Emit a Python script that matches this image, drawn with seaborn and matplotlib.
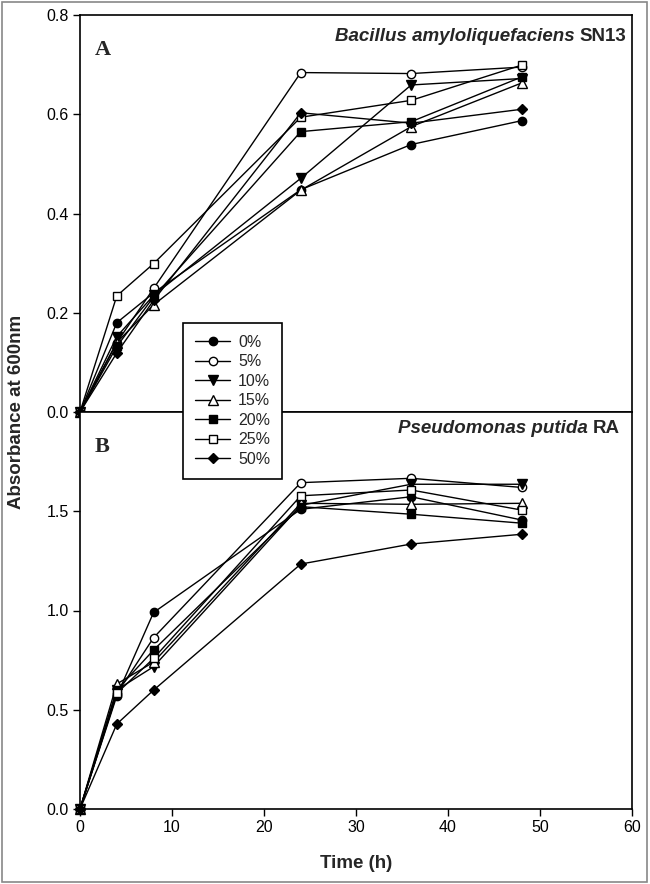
import matplotlib.pyplot as plt
import matplotlib.patches as mpatches
import pandas as pd
import seaborn as sns

# Sampling times (h) and salt concentration series
time_h = [0, 4, 8, 24, 36, 48]
concentrations = ['0%', '5%', '10%', '15%', '20%', '25%', '50%']

# Panel A: Bacillus amyloliquefaciens SN13 (absorbance at 600 nm)
bac_0 = [0.0, 0.180, 0.240, 0.448, 0.539, 0.587]
bac_5 = [0.0, 0.140, 0.249, 0.684, 0.682, 0.695]
bac_10 = [0.0, 0.152, 0.235, 0.471, 0.659, 0.672]
bac_15 = [0.0, 0.140, 0.216, 0.447, 0.575, 0.663]
bac_20 = [0.0, 0.132, 0.232, 0.565, 0.585, 0.675]
bac_25 = [0.0, 0.234, 0.299, 0.594, 0.628, 0.699]
bac_50 = [0.0, 0.119, 0.225, 0.603, 0.582, 0.610]

# Panel B: Pseudomonas putida RA
pse_0 = [0.0, 0.570, 0.990, 1.510, 1.573, 1.456]
pse_5 = [0.0, 0.580, 0.863, 1.644, 1.666, 1.620]
pse_10 = [0.0, 0.600, 0.717, 1.530, 1.636, 1.636]
pse_15 = [0.0, 0.630, 0.740, 1.540, 1.535, 1.540]
pse_20 = [0.0, 0.600, 0.801, 1.523, 1.485, 1.440]
pse_25 = [0.0, 0.583, 0.759, 1.578, 1.607, 1.506]
pse_50 = [0.0, 0.428, 0.599, 1.234, 1.335, 1.384]

bacillus = [bac_0, bac_5, bac_10, bac_15, bac_20, bac_25, bac_50]
pseudomonas = [pse_0, pse_5, pse_10, pse_15, pse_20, pse_25, pse_50]

markers = ['o', 'o', 'v', '^', 's', 's', 'D']
faces = ['black', 'white', 'black', 'white', 'black', 'white', 'black']
sizes = [6, 6, 6.5, 6.5, 6, 6, 5.5]

sns.set_style('ticks')
plt.rcParams['font.family'] = ['Liberation Sans', 'DejaVu Sans']
plt.rcParams['axes.linewidth'] = 1.2
plt.rcParams['xtick.major.width'] = 1.0
plt.rcParams['ytick.major.width'] = 1.0
plt.rcParams['xtick.color'] = 'black'
plt.rcParams['ytick.color'] = 'black'
plt.rcParams['axes.edgecolor'] = 'black'

fig = plt.figure(figsize=(6.5, 8.84), dpi=100)
left, width, height = 80 / 650, 552 / 650, 397 / 884
ax_a = fig.add_axes([left, 1 - 412 / 884, width, height])
ax_b = fig.add_axes([left, 1 - 809 / 884, width, height])


def draw_panel(ax, series):
    for vals, lab, m, fc, ms in zip(series, concentrations, markers, faces, sizes):
        df = pd.DataFrame({'time': time_h, 'abs': vals})
        sns.lineplot(data=df, x='time', y='abs', ax=ax, color='black',
                     linewidth=1.0, marker=m, markersize=ms,
                     markerfacecolor=fc, markeredgecolor='black',
                     markeredgewidth=1.0, errorbar=None, label=lab,
                     legend=False, clip_on=False)
    ax.set_xlim(0, 60)
    ax.set_xlabel('')
    ax.set_ylabel('')
    ax.tick_params(direction='out', length=5, labelsize=11.5, pad=3)


draw_panel(ax_a, bacillus)
draw_panel(ax_b, pseudomonas)

# Panel A
ax_a.set_ylim(0, 0.8)
ax_a.set_yticks([0.0, 0.2, 0.4, 0.6, 0.8])
ax_a.set_yticklabels(['0.0', '0.2', '0.4', '0.6', '0.8'])
ax_a.set_xticks([])

# Panel B
ax_b.set_ylim(0, 2.0)
ax_b.set_yticks([0.0, 0.5, 1.0, 1.5])
ax_b.set_yticklabels(['0.0', '0.5', '1.0', '1.5'])
ax_b.set_xticks([0, 10, 20, 30, 40, 50, 60])

# Panel letters
ax_a.text(0.027, 0.912, 'A', transform=ax_a.transAxes, family='Liberation Serif',
          fontweight='bold', fontsize=16, va='center', ha='left')
ax_b.text(0.027, 0.912, 'B', transform=ax_b.transAxes, family='Liberation Serif',
          fontweight='bold', fontsize=16, va='center', ha='left')

# Organism titles: italic genus/species + roman strain
t_a = ax_a.text(0.99, 0.947, 'SN13', transform=ax_a.transAxes, fontweight='bold',
                fontsize=13.5, ha='right', va='center')
ax_a.annotate('Bacillus amyloliquefaciens ', xy=(0, 0), xycoords=t_a,
              ha='right', va='bottom', fontweight='bold', fontstyle='italic',
              fontsize=13.5)
t_b = ax_b.text(0.978, 0.958, 'RA', transform=ax_b.transAxes, fontweight='bold',
                fontsize=13.5, ha='right', va='center')
ax_b.annotate('Pseudomonas putida ', xy=(0, 0), xycoords=t_b,
              ha='right', va='bottom', fontweight='bold', fontstyle='italic',
              fontsize=13.5)

# Shared axis labels
fig.text(17 / 650, 1 - 412 / 884, 'Absorbance at 600nm', rotation=90,
         fontweight='bold', fontsize=13.5, ha='center', va='center')
fig.text(356 / 650, 1 - 863 / 884, 'Time (h)', fontweight='bold', fontsize=13.5,
         ha='center', va='center')

# Legend across the two panels
handles = ax_a.get_lines()[:len(concentrations)]
leg = fig.legend(handles, concentrations, loc='upper left',
                 bbox_to_anchor=(183 / 650, 1 - 323 / 884), frameon=True,
                 fancybox=False, edgecolor='black', framealpha=1,
                 fontsize=11.5, handlelength=2.2, handletextpad=0.5,
                 labelspacing=0.28, borderpad=0.75, borderaxespad=0)
leg.get_frame().set_linewidth(1.2)

# Grey outer frame of the figure
fig.patches.append(mpatches.Rectangle((0.003, 0.002), 0.993, 0.996,
                                      transform=fig.transFigure, fill=False,
                                      edgecolor='#888888', linewidth=1.2))

plt.savefig('out.png', dpi=100)
